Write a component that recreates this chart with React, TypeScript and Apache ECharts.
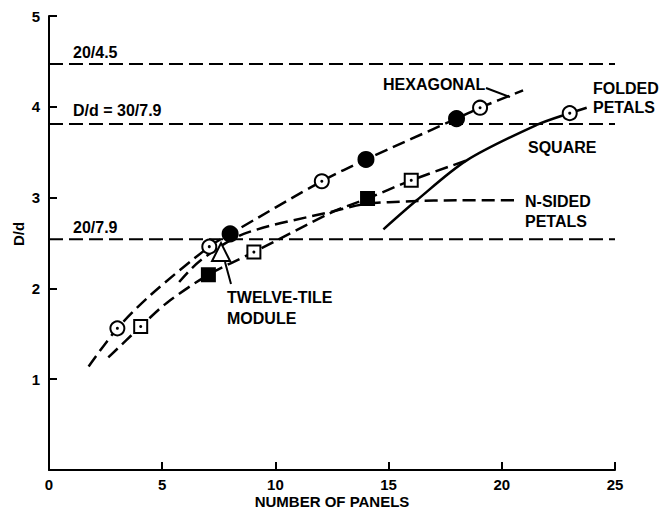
import React, { useEffect, useRef } from "react";
import * as echarts from "echarts";

// ---- data ----
const xTicks = [0, 5, 10, 15, 20, 25];
const yTicks = [1, 2, 3, 4, 5];

const refLineValues = [4.47, 3.81, 2.54];
const refLineLabels = ["20/4.5", "D/d = 30/7.9", "20/7.9"];

const hexagonalCurve: number[][] = [
  [1.75, 1.14], [3.02, 1.56], [4.5, 1.93], [7.08, 2.46], [8, 2.6],
  [12.05, 3.18], [14, 3.42], [18, 3.87], [19.04, 3.99], [20.94, 4.18],
];
const squareCurve: number[][] = [
  [2.62, 1.24], [4.05, 1.58], [5.2, 1.84], [7.04, 2.15], [9.05, 2.4],
  [12.56, 2.845], [14.07, 2.99], [16, 3.19], [18.45, 3.41],
];
const nSidedCurve: number[][] = [
  [5.75, 2.07], [6.65, 2.3], [8.6, 2.6], [12.56, 2.85], [14, 2.93],
  [16, 2.96], [18, 2.97], [20.7, 2.97],
];
const foldedCurve: number[][] = [
  [14.77, 2.65], [16.24, 2.97], [18.45, 3.41], [21.54, 3.8], [23, 3.93], [23.75, 3.99],
];

const openCircles: number[][] = [[3.02, 1.56], [7.08, 2.46], [12.05, 3.18], [19.04, 3.99], [23, 3.93]];
const filledCircles: number[][] = [[8, 2.6], [14, 3.42], [18, 3.87]];
const openSquares: number[][] = [[4.05, 1.58], [9.05, 2.4], [16, 3.19]];
const filledSquares: number[][] = [[7.04, 2.15], [14.07, 2.99]];
const twelveTile: number[][] = [[7.6, 2.4]];

const FONT = '"Liberation Sans", Arial, sans-serif';

export default function App() {
  const ref = useRef<HTMLDivElement>(null);
  useEffect(() => {
    document.body.style.margin = "0";
    const chart = echarts.init(ref.current!, null, { renderer: "svg" });

    const curve = (name: string, data: number[][], dashed: boolean) => ({
      name,
      type: "line",
      data,
      smooth: 0.3,
      showSymbol: false,
      silent: true,
      z: 2,
      lineStyle: { color: "#000", width: 2.5, type: dashed ? [13, 6] : "solid" },
    });

    const refLines = refLineValues.map((v, i) => ({
      name: refLineLabels[i],
      type: "line",
      data: [[0, v], [25, v]],
      showSymbol: false,
      silent: true,
      z: 1,
      lineStyle: { color: "#000", width: 2, type: [14, 6] },
    }));

    const marker = (name: string, data: number[][], symbol: string, size: number, filled: boolean) => ({
      name,
      type: "scatter",
      data,
      symbol,
      symbolSize: size,
      z: 5,
      itemStyle: {
        color: filled ? "#000" : "#fff",
        borderColor: "#000",
        borderWidth: 2,
        opacity: 1,
      },
    });

    const dots = {
      name: "dots",
      type: "scatter",
      data: [...openCircles, ...openSquares],
      symbol: "circle",
      symbolSize: 3,
      z: 6,
      itemStyle: { color: "#000", opacity: 1 },
    };

    const labelStyle = (text: string, x: number, y: number, size = 16) => ({
      type: "text",
      x,
      y,
      z: 10,
      style: {
        text,
        fill: "#000",
        font: `bold ${size}px ${FONT}`,
        align: "left",
        verticalAlign: "middle",
      },
    });

    const refLabelY = [52, 110.5, 227];

    chart.setOption({
      animation: false,
      backgroundColor: "#fff",
      grid: { left: 49, right: 49, top: 16, bottom: 42, outerBoundsMode: "none", containLabel: false },
      xAxis: {
        type: "value",
        min: 0,
        max: 25,
        interval: 5,
        name: "NUMBER OF PANELS",
        nameLocation: "middle",
        nameGap: 24,
        nameMoveOverlap: false,
        nameTextStyle: { color: "#000", fontWeight: "bold", fontSize: 15, fontFamily: FONT, lineHeight: 15 },
        axisLine: { show: true, lineStyle: { color: "#000", width: 2 } },
        axisTick: { show: true, inside: true, length: 8, lineStyle: { color: "#000", width: 2 } },
        axisLabel: {
          color: "#000", fontWeight: "bold", fontSize: 15, fontFamily: FONT, margin: 7, lineHeight: 15,
          formatter: (v: number) => (xTicks.includes(v) ? String(v) : ""),
        },
        splitLine: { show: false },
      },
      yAxis: {
        type: "value",
        min: 0,
        max: 5,
        interval: 1,
        axisLine: { show: true, lineStyle: { color: "#000", width: 2 } },
        axisTick: { show: true, inside: true, length: 8, lineStyle: { color: "#000", width: 2 } },
        axisLabel: {
          color: "#000", fontWeight: "bold", fontSize: 15, fontFamily: FONT, margin: 9,
          formatter: (v: number) => (yTicks.includes(v) ? String(v) : ""),
        },
        splitLine: { show: false },
      },
      graphic: [
        ...refLineLabels.map((t, i) => labelStyle(t, 73, refLabelY[i])),
        labelStyle("HEXAGONAL", 383, 84.5),
        labelStyle("FOLDED", 593, 88),
        labelStyle("PETALS", 593, 107.5),
        labelStyle("SQUARE", 528, 147),
        labelStyle("N-SIDED", 525, 201.5),
        labelStyle("PETALS", 525, 221.5),
        labelStyle("TWELVE-TILE", 227, 297),
        labelStyle("MODULE", 227, 318),
        {
          type: "text",
          x: 18,
          y: 234,
          rotation: Math.PI / 2,
          z: 10,
          style: {
            text: "D/d",
            fill: "#000",
            font: `bold 15px ${FONT}`,
            align: "center",
            verticalAlign: "middle",
          },
        },
        {
          type: "line",
          z: 10,
          shape: { x1: 486, y1: 88, x2: 510, y2: 97 },
          style: { stroke: "#000", lineWidth: 2 },
        },
        {
          type: "line",
          z: 10,
          shape: { x1: 225, y1: 262, x2: 231, y2: 284 },
          style: { stroke: "#000", lineWidth: 2 },
        },
      ],
      series: [
        ...refLines,
        curve("HEXAGONAL", hexagonalCurve, true),
        curve("SQUARE", squareCurve, true),
        curve("N-SIDED PETALS", nSidedCurve, true),
        curve("FOLDED PETALS", foldedCurve, false),
        marker("open circles", openCircles, "circle", 14, false),
        marker("filled circles", filledCircles, "circle", 15, true),
        marker("open squares", openSquares, "rect", 13, false),
        marker("filled squares", filledSquares, "rect", 13, true),
        marker("TWELVE-TILE MODULE", twelveTile, "triangle", 18, false),
        dots,
      ],
    });
    return () => chart.dispose();
  }, []);
  return <div ref={ref} style={{ width: 664, height: 512 }} />;
}
